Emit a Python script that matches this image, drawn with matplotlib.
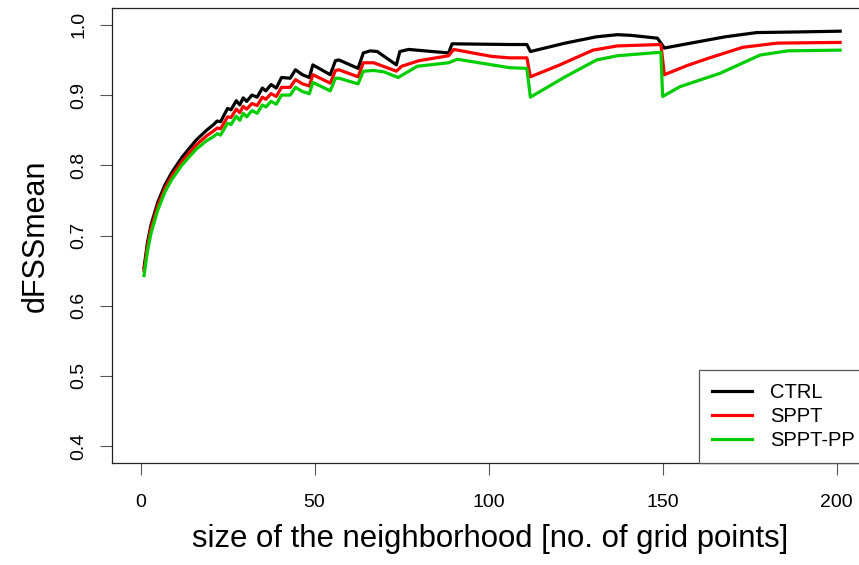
import matplotlib
matplotlib.use("Agg")
import matplotlib.pyplot as plt

plt.rcParams['font.family'] = ['Liberation Sans', 'DejaVu Sans']

# neighbourhood size [grid points] and mean dFSS for each experiment
ctrl_x = [1, 2, 3, 5, 7, 9, 12, 16, 19, 21, 22, 23, 25, 26, 27.5, 28.5, 29.5, 30.5,
          32, 33.5, 35, 36, 37.5, 39, 40.5, 43, 44.5, 46.5, 48.5, 49.5, 54.5, 56, 57,
          62.5, 64, 66, 68, 73.5, 74.5, 77, 88.5, 89.5, 106, 111, 112, 122, 131, 137,
          141, 148.5, 149.5, 150.5, 157, 168, 177, 190, 201]
ctrl_y = [0.654, 0.690, 0.715, 0.748, 0.772, 0.790, 0.812, 0.836, 0.850, 0.858, 0.863,
          0.862, 0.881, 0.879, 0.892, 0.886, 0.896, 0.891, 0.900, 0.897, 0.910, 0.906,
          0.915, 0.910, 0.925, 0.924, 0.936, 0.929, 0.925, 0.943, 0.929, 0.949, 0.950,
          0.938, 0.960, 0.963, 0.962, 0.943, 0.962, 0.965, 0.960, 0.973, 0.972, 0.972,
          0.962, 0.974, 0.983, 0.986, 0.985, 0.981, 0.974, 0.967, 0.973, 0.983, 0.989,
          0.990, 0.991]

sppt_x = [1, 2, 3, 5, 7, 9, 12, 16, 19, 21, 22, 23, 25, 26, 27.5, 28.5, 29.5, 30.5,
          32, 33.5, 35, 36, 37.5, 39, 40.5, 43, 44.5, 46.5, 48.5, 49.5, 54.5, 56, 57,
          62.5, 64, 67, 73.5, 75, 80, 88.5, 90, 96.5, 101, 106, 111, 112, 120, 130, 137,
          149.5, 150.5, 157, 163.5, 173, 183, 201]
sppt_y = [0.650, 0.685, 0.710, 0.743, 0.767, 0.785, 0.806, 0.829, 0.842, 0.849, 0.853,
          0.852, 0.869, 0.868, 0.880, 0.875, 0.884, 0.880, 0.888, 0.885, 0.897, 0.894,
          0.902, 0.898, 0.911, 0.911, 0.922, 0.916, 0.913, 0.929, 0.917, 0.935, 0.936,
          0.926, 0.946, 0.946, 0.934, 0.941, 0.949, 0.956, 0.965, 0.959, 0.955, 0.953,
          0.953, 0.926, 0.942, 0.964, 0.970, 0.972, 0.929, 0.942, 0.953, 0.968, 0.974,
          0.975]

spptpp_x = [1, 2, 3, 5, 7, 9, 12, 16, 19, 21, 22, 23, 25, 26, 27.5, 28.5, 29.5, 30.5,
            32, 33.5, 35, 36, 37.5, 39, 40.5, 43, 44.5, 46.5, 48.5, 49.5, 54.5, 56, 57,
            62.5, 64, 67, 70, 74, 79.5, 88.5, 91, 101, 106, 111, 112, 122, 131, 137,
            149.5, 150, 155, 166.5, 178, 186, 201]
spptpp_y = [0.643, 0.678, 0.703, 0.737, 0.762, 0.780, 0.801, 0.823, 0.835, 0.841, 0.845,
            0.843, 0.860, 0.858, 0.870, 0.864, 0.874, 0.869, 0.878, 0.874, 0.886, 0.883,
            0.891, 0.887, 0.900, 0.900, 0.911, 0.905, 0.902, 0.918, 0.906, 0.924, 0.924,
            0.916, 0.934, 0.935, 0.933, 0.925, 0.941, 0.946, 0.951, 0.943, 0.939, 0.938,
            0.897, 0.926, 0.950, 0.956, 0.961, 0.898, 0.912, 0.931, 0.957, 0.963, 0.964]

series_names = ["CTRL", "SPPT", "SPPT-PP"]
series_colors = ["#000000", "#FF0000", "#00CD00"]
x_ticks = [0, 50, 100, 150, 200]
y_ticks = [0.4, 0.5, 0.6, 0.7, 0.8, 0.9, 1.0]

W, H = 859, 565
fig = plt.figure(figsize=(W / 100, H / 100), dpi=100)
left, right, top, bottom = 112, 868, 8, 463
ax = fig.add_axes([left / W, 1 - bottom / H, (right - left) / W, (bottom - top) / H])

for xs, ys, name, col in zip([ctrl_x, sppt_x, spptpp_x], [ctrl_y, sppt_y, spptpp_y],
                             series_names, series_colors):
    ax.plot(xs, ys, color=col, lw=2.3, label=name, solid_joinstyle='round')

ax.set_xlim(-8.2, 209)
ax.set_ylim(0.376, 1.024)
ax.set_xticks(x_ticks)
ax.set_xticklabels([str(v) for v in x_ticks])
ax.set_yticks(y_ticks)
ax.set_yticklabels([f"{v:.1f}" for v in y_ticks], rotation=90, va='center')

for sp in ax.spines.values():
    sp.set_color('#222222')
    sp.set_linewidth(0.9)
ax.tick_params(axis='both', direction='out', length=8.6, width=0.8, color='#555555',
               labelsize=14, labelcolor='black')
ax.tick_params(axis='x', pad=14)
ax.tick_params(axis='y', pad=9)

ax.set_xlabel("size of the neighborhood [no. of grid points]", fontsize=22.4, labelpad=9)
ax.set_ylabel("dFSSmean", fontsize=22, labelpad=14)

leg = ax.legend(loc='lower right', bbox_to_anchor=(1, 0), borderaxespad=0,
                fontsize=14.5, handlelength=2.0, handletextpad=0.9, labelspacing=0.24,
                borderpad=0.65, fancybox=False, framealpha=1)
leg.get_frame().set_edgecolor('#555555')
leg.get_frame().set_linewidth(0.9)

fig.savefig("out.png", dpi=100)
